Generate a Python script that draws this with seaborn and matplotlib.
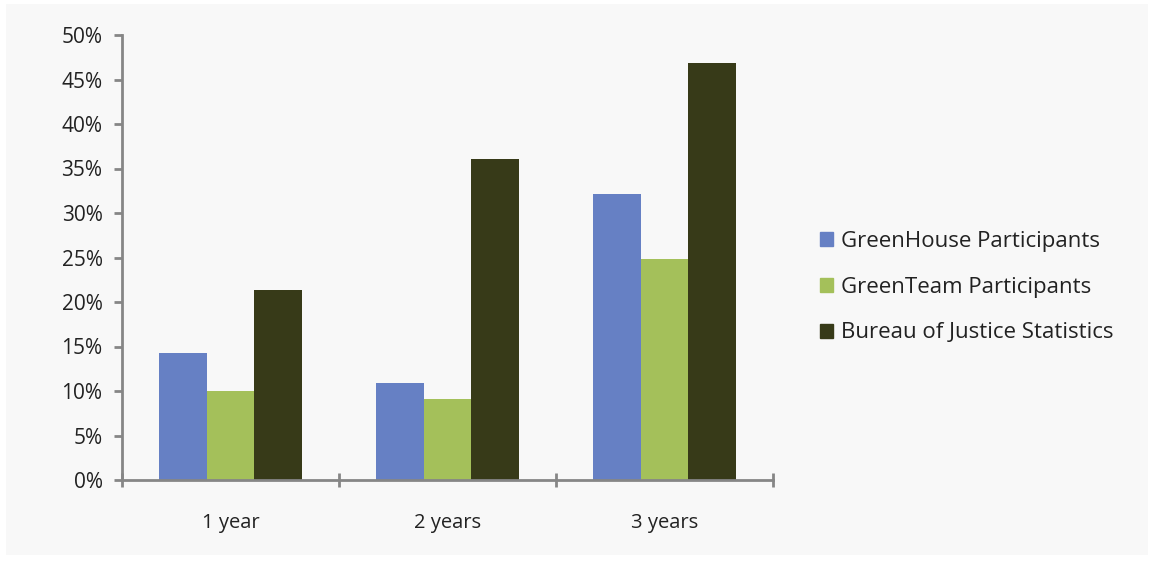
import matplotlib
matplotlib.use("Agg")
import matplotlib.pyplot as plt
import matplotlib.patches as mpatches
import seaborn as sns
import pandas as pd
from matplotlib.ticker import FuncFormatter, MultipleLocator

categories = ["1 year", "2 years", "3 years"]
series_names = ["GreenHouse Participants", "GreenTeam Participants", "Bureau of Justice Statistics"]
greenhouse = [14.3, 10.9, 32.1]
greenteam = [10.0, 9.1, 24.8]
bjs = [21.3, 36.1, 46.8]
colors = ["#6680C4", "#A4C05A", "#373A18"]

rows = []
for name, vals in zip(series_names, [greenhouse, greenteam, bjs]):
    for c, v in zip(categories, vals):
        rows.append({"period": c, "series": name, "value": v})
df = pd.DataFrame(rows)

sns.set_theme(style="white")
plt.rcParams['font.family'] = ['Open Sans', 'DejaVu Sans']

fig = plt.figure(figsize=(11.54, 5.61), dpi=100)
fig.patch.set_facecolor("white")
fig.patches.append(mpatches.Rectangle((6/1154, 6/561), 1 - 12/1154, 1 - 10/561,
                                      transform=fig.transFigure, facecolor="#F8F8F8",
                                      edgecolor="none", zorder=-10))
ax = fig.add_axes([122/1154, 1 - 480/561, (773 - 122)/1154, (480 - 35)/561])
ax.set_facecolor("none")

sns.barplot(data=df, x="period", y="value", hue="series", palette=colors,
            order=categories, hue_order=series_names, width=0.66,
            saturation=1, ax=ax, edgecolor="none", linewidth=0)

ax.set_ylim(0, 50)
ax.set_xlim(-0.5, 2.5)
ax.yaxis.set_major_locator(MultipleLocator(5))
ax.yaxis.set_major_formatter(FuncFormatter(lambda v, p: f"{int(v)}%"))
ax.set_xlabel("")
ax.set_ylabel("")

for s in ["top", "right"]:
    ax.spines[s].set_visible(False)
for s in ["left", "bottom"]:
    ax.spines[s].set_color("#868686")
    ax.spines[s].set_linewidth(2)

ax.tick_params(axis="y", direction="out", length=6, width=2, color="#868686",
               labelsize=15, labelcolor="#222222", left=True, pad=8)
ax.set_xticks([-0.5, 0.5, 1.5, 2.5], minor=False)
ax.set_xticklabels([])
ax.set_xticks([0, 1, 2], minor=True)
ax.set_xticklabels(categories, minor=True)
ax.tick_params(axis="x", which="major", direction="inout", length=10, width=2,
               color="#868686", bottom=True)
ax.tick_params(axis="x", which="minor", length=0, labelsize=14.5,
               labelcolor="#222222", pad=24)

handles = [mpatches.Patch(color=c, label=n) for c, n in zip(colors, series_names)]
ax.get_legend().remove()
fig.legend(handles=handles, loc="center left", bbox_to_anchor=(800/1154, 1 - 287/561),
           frameon=False, fontsize=16, handlelength=0.6, handleheight=0.6,
           handletextpad=0.35, labelspacing=1.12, labelcolor="#222222")

fig.savefig("out.png", dpi=100)
